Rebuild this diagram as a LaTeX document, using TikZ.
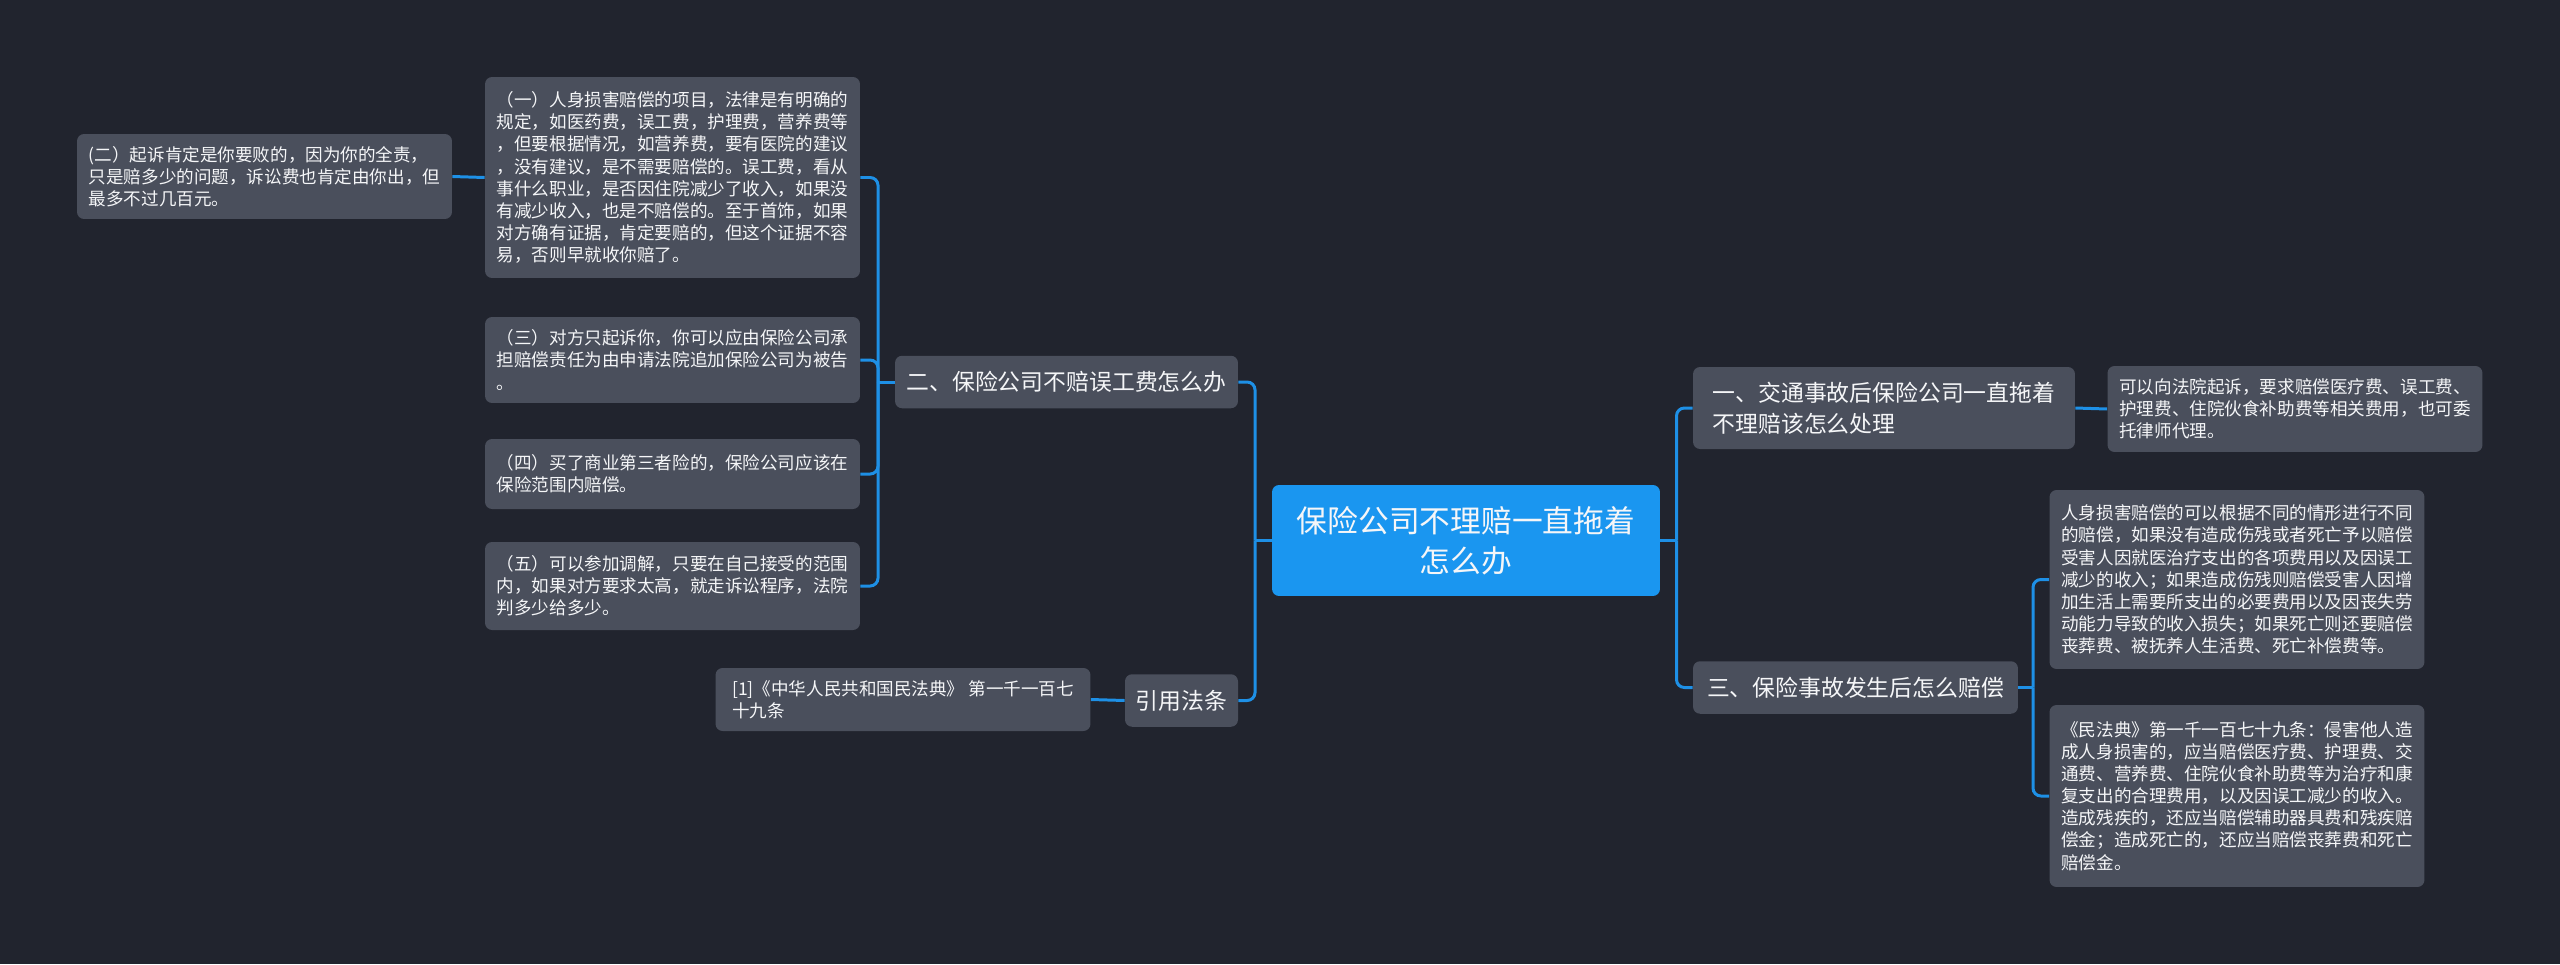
\documentclass[tikz,border=0pt]{standalone}
\usepackage{fontspec}
\setmainfont{Noto Sans CJK SC}
\usetikzlibrary{positioning}
\definecolor{MindBg}{RGB}{33,36,46}
\definecolor{MindNode}{RGB}{74,79,92}
\definecolor{MindRoot}{RGB}{26,150,240}
\definecolor{MindLink}{RGB}{30,144,230}
\definecolor{MindText}{RGB}{245,246,248}
\tikzset{
  mind/root/.style={
    draw=none,
    fill=MindRoot,
    rounded corners=4pt,
    align=center,
    text=MindText,
    minimum width=7.76cm,
    minimum height=2.22cm,
    inner sep=0pt,
    font=\fontsize{17.5}{23}\selectfont
  },
  mind/branch/.style={
    draw=none,
    fill=MindNode,
    rounded corners=4pt,
    align=left,
    text=MindText,
    minimum height=1.05cm,
    inner sep=0pt,
    font=\fontsize{13}{17.6}\selectfont
  },
  mind/leaf/.style={
    draw=none,
    fill=MindNode,
    rounded corners=4pt,
    align=left,
    text=MindText,
    minimum width=7.5cm,
    inner sep=0pt,
    font=\fontsize{10}{12.6}\selectfont
  },
  mind/link/.style={line width=1.7pt, draw=MindLink, rounded corners=4.5pt}
}
\begin{document}
\begin{tikzpicture}[x=0.02cm,y=-0.02cm]
  \fill[MindBg] (0,0) rectangle (2560,964);
  % centre
  \node[mind/root] (root) at (1466,540.5) {保险公司不理赔一直拖着\\怎么办};
  % left side
  \node[mind/branch,minimum width=6.86cm] (b2) at (1066.5,382) {二、保险公司不赔误工费怎么办};
  \node[mind/branch,minimum width=2.26cm] (bref) at (1181.5,700.5) {引用法条};
  \node[mind/leaf,minimum height=4.02cm] (l2a) at (672.5,177.5) {（一）人身损害赔偿的项目，法律是有明确的\\规定，如医药费，误工费，护理费，营养费等\\，但要根据情况，如营养费，要有医院的建议\\，没有建议，是不需要赔偿的。误工费，看从\\事什么职业，是否因住院减少了收入，如果没\\有减少收入，也是不赔偿的。至于首饰，如果\\对方确有证据，肯定要赔的，但这个证据不容\\易，否则早就收你赔了。};
  \node[mind/leaf,minimum height=1.7cm] (l2b) at (264.5,176.5) {(二）起诉肯定是你要败的，因为你的全责，\\只是赔多少的问题，诉讼费也肯定由你出，但\\最多不过几百元。};
  \node[mind/leaf,minimum height=1.72cm] (l2c) at (672.5,360) {（三）对方只起诉你，你可以应由保险公司承\\担赔偿责任为由申请法院追加保险公司为被告\\。};
  \node[mind/leaf,minimum height=1.4cm] (l2d) at (672.5,474) {（四）买了商业第三者险的，保险公司应该在\\保险范围内赔偿。};
  \node[mind/leaf,minimum height=1.76cm] (l2e) at (672.5,586) {（五）可以参加调解，只要在自己接受的范围\\内，如果对方要求太高，就走诉讼程序，法院\\判多少给多少。};
  \node[mind/leaf,minimum height=1.26cm] (lref) at (903,699.5) {[1]《中华人民共和国民法典》 第一千一百七\\十九条};
  % right side
  \node[mind/branch,minimum width=7.64cm,minimum height=1.64cm] (b1) at (1884,408) {一、交通事故后保险公司一直拖着\\不理赔该怎么处理};
  \node[mind/branch,minimum width=6.5cm] (b3) at (1855.5,687.5) {三、保险事故发生后怎么赔偿};
  \node[mind/leaf,minimum height=1.72cm] (l1) at (2295,409) {可以向法院起诉，要求赔偿医疗费、误工费、\\护理费、住院伙食补助费等相关费用，也可委\\托律师代理。};
  \node[mind/leaf,minimum height=3.58cm] (l3a) at (2237,579.5) {人身损害赔偿的可以根据不同的情形进行不同\\的赔偿，如果没有造成伤残或者死亡予以赔偿\\受害人因就医治疗支出的各项费用以及因误工\\减少的收入；如果造成伤残则赔偿受害人因增\\加生活上需要所支出的必要费用以及因丧失劳\\动能力导致的收入损失；如果死亡则还要赔偿\\丧葬费、被抚养人生活费、死亡补偿费等。};
  \node[mind/leaf,minimum height=3.64cm] (l3b) at (2237,796) {《民法典》第一千一百七十九条：侵害他人造\\成人身损害的，应当赔偿医疗费、护理费、交\\通费、营养费、住院伙食补助费等为治疗和康\\复支出的合理费用，以及因误工减少的收入。\\造成残疾的，还应当赔偿辅助器具费和残疾赔\\偿金；造成死亡的，还应当赔偿丧葬费和死亡\\赔偿金。};
  % junctions
  \coordinate (jl) at (1255,540.5);
  \coordinate (j2) at (878,382);
  \coordinate (jr) at (1676.5,540.5);
  \coordinate (j3) at (2033,687.5);
  % links
  \draw[mind/link] (root.west) -- (jl);
  \draw[mind/link] (jl) |- (b2.east);
  \draw[mind/link] (jl) |- (bref.east);
  \draw[mind/link] (b2.west) -- (j2);
  \draw[mind/link] (j2) |- (l2a.east);
  \draw[mind/link] (j2) |- (l2c.east);
  \draw[mind/link] (j2) |- (l2d.east);
  \draw[mind/link] (j2) |- (l2e.east);
  \draw[mind/link] (l2a.west) -- (l2b.east);
  \draw[mind/link] (bref.west) -- (lref.east);
  \draw[mind/link] (root.east) -- (jr);
  \draw[mind/link] (jr) |- (b1.west);
  \draw[mind/link] (jr) |- (b3.west);
  \draw[mind/link] (b1.east) -- (l1.west);
  \draw[mind/link] (b3.east) -- (j3);
  \draw[mind/link] (j3) |- (l3a.west);
  \draw[mind/link] (j3) |- (l3b.west);
\end{tikzpicture}
\end{document}
